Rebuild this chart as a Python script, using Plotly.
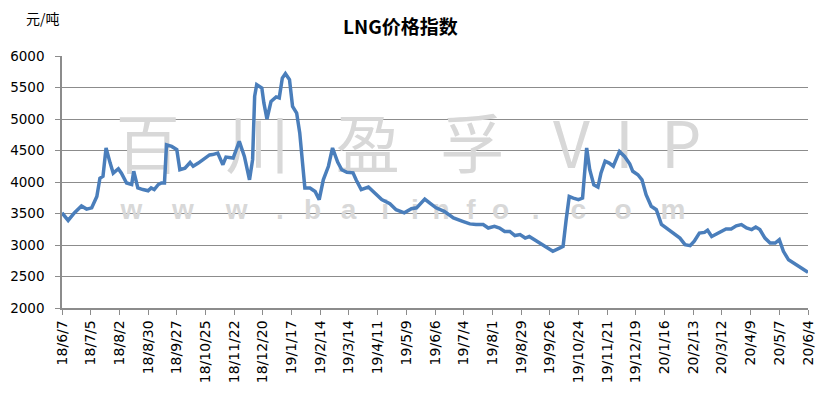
import plotly.graph_objects as go
from datetime import datetime

# ---------------- data ----------------
dates = [
    "2018-06-07", "2018-06-13", "2018-06-19", "2018-06-26", "2018-07-01", "2018-07-06",
    "2018-07-11", "2018-07-14", "2018-07-17", "2018-07-20", "2018-07-24", "2018-07-27",
    "2018-08-01", "2018-08-04", "2018-08-09", "2018-08-14", "2018-08-16", "2018-08-20",
    "2018-08-25", "2018-08-30", "2018-09-02", "2018-09-05", "2018-09-09", "2018-09-12",
    "2018-09-15", "2018-09-17", "2018-09-22", "2018-09-27", "2018-09-30", "2018-10-05",
    "2018-10-10", "2018-10-13", "2018-10-18", "2018-10-26", "2018-10-29", "2018-11-01",
    "2018-11-06", "2018-11-11", "2018-11-14", "2018-11-21", "2018-11-27", "2018-12-02",
    "2018-12-06", "2018-12-07", "2018-12-10", "2018-12-12", "2018-12-14", "2018-12-19",
    "2018-12-21", "2018-12-24", "2018-12-28", "2019-01-02", "2019-01-05", "2019-01-08",
    "2019-01-11", "2019-01-15", "2019-01-18", "2019-01-22", "2019-01-25", "2019-01-28",
    "2019-01-30", "2019-02-04", "2019-02-09", "2019-02-13", "2019-02-17", "2019-02-22",
    "2019-02-26", "2019-03-03", "2019-03-07", "2019-03-12", "2019-03-18", "2019-03-21",
    "2019-03-26", "2019-04-02", "2019-04-08", "2019-04-15", "2019-04-23", "2019-04-29",
    "2019-05-07", "2019-05-14", "2019-05-19", "2019-05-27", "2019-06-01", "2019-06-07",
    "2019-06-15", "2019-06-24", "2019-07-03", "2019-07-10", "2019-07-16", "2019-07-23",
    "2019-07-28", "2019-08-03", "2019-08-08", "2019-08-13", "2019-08-18", "2019-08-23",
    "2019-08-28", "2019-09-02", "2019-09-06", "2019-09-11", "2019-09-16", "2019-09-23",
    "2019-09-29", "2019-10-06", "2019-10-09", "2019-10-12", "2019-10-15", "2019-10-19",
    "2019-10-24", "2019-10-28", "2019-11-01", "2019-11-04", "2019-11-08", "2019-11-12",
    "2019-11-15", "2019-11-19", "2019-11-23", "2019-11-27", "2019-12-03", "2019-12-08",
    "2019-12-13", "2019-12-16", "2019-12-21", "2019-12-25", "2019-12-29", "2020-01-03",
    "2020-01-08", "2020-01-13", "2020-01-19", "2020-01-26", "2020-01-31", "2020-02-05",
    "2020-02-10", "2020-02-14", "2020-02-19", "2020-02-24", "2020-02-27", "2020-03-02",
    "2020-03-08", "2020-03-16", "2020-03-21", "2020-03-26", "2020-03-31", "2020-04-05",
    "2020-04-10", "2020-04-14", "2020-04-18", "2020-04-23", "2020-04-28", "2020-05-03",
    "2020-05-07", "2020-05-11", "2020-05-16", "2020-05-24", "2020-05-30", "2020-06-04",
]

lng_index = [
    3510, 3390, 3510, 3620, 3570, 3590,
    3770, 4060, 4090, 4540, 4300, 4140,
    4210, 4140, 3985, 3960, 4170, 3905,
    3880, 3860, 3905, 3880, 3960, 3985,
    3985, 4590, 4565, 4515, 4195, 4220,
    4310, 4250, 4300, 4400, 4430, 4435,
    4460, 4275, 4395, 4380, 4645, 4405,
    4065, 4035, 4355, 5360, 5545, 5490,
    5255, 5000, 5280, 5350, 5335, 5650,
    5720, 5625, 5200, 5095, 4780, 4195,
    3905, 3905, 3850, 3720, 4035, 4250,
    4540, 4315, 4195, 4155, 4145, 4035,
    3880, 3920, 3825, 3720, 3655, 3560,
    3510, 3575, 3590, 3730, 3665, 3590,
    3535, 3430, 3375, 3335, 3325, 3325,
    3270, 3295, 3270, 3215, 3215, 3150,
    3165, 3110, 3135, 3085, 3030, 2955,
    2900, 2955, 2980, 3400, 3770, 3745,
    3720, 3745, 4540, 4195, 3955, 3920,
    4145, 4330, 4300, 4250, 4485, 4405,
    4290, 4170, 4115, 4035, 3800, 3615,
    3560, 3325, 3255, 3165, 3110, 3005,
    2990, 3060, 3190, 3200, 3235, 3135,
    3190, 3255, 3255, 3305, 3325, 3270,
    3245, 3285, 3245, 3110, 3030, 3030,
    3085, 2900, 2765, 2690, 2620, 2565,
]

tick_labels = [
    "18/6/7", "18/7/5", "18/8/2", "18/8/30", "18/9/27", "18/10/25", "18/11/22",
    "18/12/20", "19/1/17", "19/2/14", "19/3/14", "19/4/11", "19/5/9", "19/6/6",
    "19/7/4", "19/8/1", "19/8/29", "19/9/26", "19/10/24", "19/11/21", "19/12/19",
    "20/1/16", "20/2/13", "20/3/12", "20/4/9", "20/5/7", "20/6/4",
]
y_ticks = [2000, 2500, 3000, 3500, 4000, 4500, 5000, 5500, 6000]

title_text = "LNG价格指数"
unit_text = "元/吨"
watermark_big = ["百", "川", "盈", "孚", "V", "I", "P"]
watermark_small = list("www.baiinfo.com")

# ---------------- derived ----------------
tick_vals = [datetime.strptime("20" + t, "%Y/%m/%d").strftime("%Y-%m-%d") for t in tick_labels]

# watermark positions, as fractions of the plot area
wm_big_x = [0.115, 0.262, 0.41, 0.55, 0.683, 0.754, 0.83]
wm_small_x = [0.093, 0.162, 0.234, 0.292, 0.336, 0.384, 0.433, 0.473,
              0.508, 0.548, 0.588, 0.635, 0.692, 0.752, 0.819]

LINE = "#4a7ebb"
GRID = "#8c8c8c"
WM = "#d8d8d8"

fig = go.Figure()

# watermark (on the hidden base axes, so it sits beneath the data line)
fig.add_trace(go.Scatter(
    x=wm_big_x, y=[0.62] * len(wm_big_x), xaxis="x", yaxis="y",
    mode="text", text=watermark_big,
    textfont=dict(family="Noto Sans CJK SC", size=64, color=WM),
    hoverinfo="skip", showlegend=False,
))
fig.add_trace(go.Scatter(
    x=wm_small_x, y=[0.38] * len(wm_small_x), xaxis="x", yaxis="y",
    mode="text", text=watermark_small,
    textfont=dict(family="Liberation Sans", size=28, color=WM, weight="bold"),
    hoverinfo="skip", showlegend=False,
))

# data line on the overlaying, visible axes
fig.add_trace(go.Scatter(
    x=dates, y=lng_index, xaxis="x2", yaxis="y2",
    mode="lines", line=dict(color=LINE, width=3.5),
    showlegend=False, name="LNG价格指数",
))

x_tick_font = dict(family="DejaVu Sans", size=14, color="#000000")
y_tick_font = dict(family="DejaVu Sans", size=13.5, color="#000000")

# the page body adds an 8 px offset, so the figure is sized to fit inside it
fig.update_layout(
    width=811, height=382,
    margin=dict(l=54, r=11, t=48, b=82, autoexpand=False),
    paper_bgcolor="white", plot_bgcolor="white",
    showlegend=False,
    xaxis=dict(visible=False, range=[0, 1], fixedrange=True, automargin=False),
    yaxis=dict(visible=False, range=[0, 1], fixedrange=True, automargin=False),
    xaxis2=dict(
        overlaying="x", anchor="y2", side="bottom", type="date",
        range=[tick_vals[0], tick_vals[-1]], automargin=False,
        tickmode="array", tickvals=tick_vals, ticktext=tick_labels,
        tickangle=-90, tickfont=x_tick_font,
        ticks="outside", ticklen=5, tickcolor=GRID, tickwidth=1,
        showline=True, linecolor=GRID, linewidth=1.5,
        showgrid=False, zeroline=False,
    ),
    yaxis2=dict(
        overlaying="y", anchor="x2", side="left", automargin=False,
        range=[2000, 6000], tickmode="array", tickvals=y_ticks,
        tickfont=y_tick_font, ticks="outside", ticklen=5, tickcolor=GRID,
        ticklabelstandoff=8,
        showline=True, linecolor=GRID, linewidth=1.5,
        showgrid=True, gridcolor=GRID, gridwidth=1.2, zeroline=False,
    ),
    annotations=[
        dict(text=title_text, xref="paper", yref="paper", x=0.454, y=1.123,
             xanchor="center", yanchor="middle", showarrow=False,
             font=dict(family="Noto Sans CJK SC", size=19, color="#000000", weight="bold")),
        dict(text=unit_text, xref="paper", yref="paper", x=-0.0255, y=1.151,
             xanchor="center", yanchor="middle", showarrow=False,
             font=dict(family="Noto Sans CJK SC", size=14, color="#000000")),
    ],
)

fig.write_html("out.html")
